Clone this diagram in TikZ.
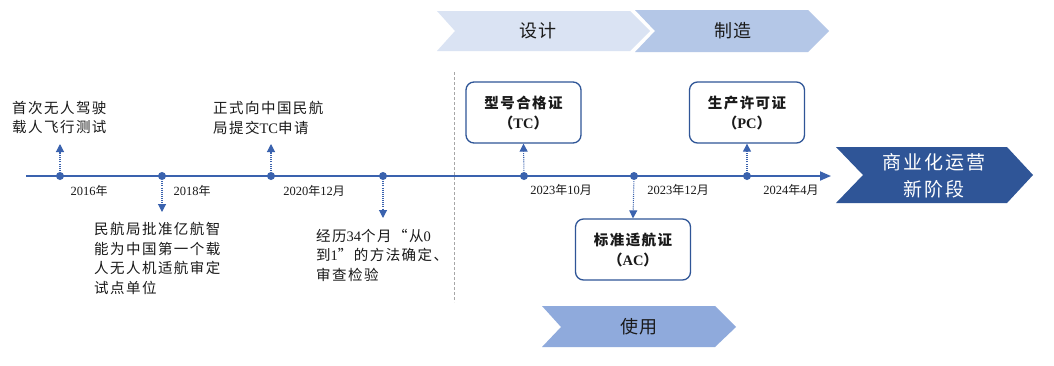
\documentclass[tikz,border=0pt]{standalone}
\usepackage{fontspec}
\setmainfont{Liberation Serif}
\newfontfamily\cjk[LetterSpace=10]{Noto Sans CJK SC}
\usetikzlibrary{arrows.meta}
\definecolor{dblue}{HTML}{2F5597}
\definecolor{lineblue}{HTML}{3A62AE}
\definecolor{fillA}{HTML}{DAE3F3}
\definecolor{fillB}{HTML}{B4C7E7}
\definecolor{fillC}{HTML}{8FAADC}
\definecolor{txt}{HTML}{1A1A1A}
\begin{document}
\begin{tikzpicture}[x=1pt,y=-1pt,
  evdot/.style={circle, fill=lineblue, inner sep=0pt, minimum size=8pt},
  evarrow/.style={draw=lineblue, line width=1.1pt, dash pattern=on 1pt off 1.1pt, -{Triangle[length=8pt,width=8pt]}, shorten <=1pt},
  evtext/.style={anchor=north west, inner sep=0pt, align=left, text=txt, font=\fontsize{14.5}{19.5}\selectfont\cjk},
  datetext/.style={anchor=center, inner sep=0pt, text=txt, font=\fontsize{12.5}{14}\selectfont},
  certbox/.style={draw=dblue, line width=1.3pt, rounded corners=8pt, fill=white, minimum width=115pt, minimum height=61pt, align=center, inner sep=0pt, text=txt, font=\fontsize{14.5}{20}\selectfont\bfseries},
  chevtext/.style={inner sep=0pt, text=txt, font=\fontsize{18}{20}\selectfont\cjk}
]
\useasboundingbox (0,0) rectangle (1054,365);
\fill[white] (0,0) rectangle (1054,365);

% phase chevrons
\fill[fillA] (437,11) -- (630,11) -- (650,31) -- (630,51) -- (437,51) -- (455,31) -- cycle;
\fill[fillB] (635,10) -- (808,10) -- (829,31) -- (808,52) -- (635,52) -- (655,31) -- cycle;
\fill[fillC] (542,306) -- (715,306) -- (736,327) -- (715,347) -- (542,347) -- (561,327) -- cycle;
\fill[dblue] (836,147) -- (1007,147) -- (1033,175) -- (1007,203) -- (836,203) -- (863,175) -- cycle;
\node[chevtext] (sheji) at (538,31) {设计};
\node[chevtext] (zhizao) at (733,31) {制造};
\node[chevtext] (shiyong) at (639,327) {使用};
\node[inner sep=0pt, text=white, align=center, font=\fontsize{19}{27}\selectfont\cjk] (shangye) at (934,176) {商业化运营\\新阶段};

% separator
\draw[gray!70, line width=0.8pt, dash pattern=on 3pt off 2pt] (454,72) -- (454,302);

% timeline
\coordinate (tstart) at (26,176);
\coordinate (tend) at (831,176);
\draw[lineblue, line width=1.8pt, -{Triangle[length=11pt,width=9pt]}] (tstart) -- (tend);

\node[evdot] (d1) at (60,176) {};
\node[evdot] (d2) at (162,176) {};
\node[evdot] (d3) at (271,176) {};
\node[evdot] (d4) at (383,176) {};
\node[evdot] (d5) at (524,176) {};
\node[evdot] (d6) at (634,176) {};
\node[evdot] (d7) at (747,176) {};

% dates
\node[datetext] (y1) at (89,191) {2016{\cjk\fontsize{12}{14}\selectfont 年}};
\node[datetext] (y2) at (192,191) {2018{\cjk\fontsize{12}{14}\selectfont 年}};
\node[datetext] (y3) at (314,191) {2020{\cjk\fontsize{12}{14}\selectfont 年}12{\cjk\fontsize{12}{14}\selectfont 月}};
\node[datetext] (y5) at (561,190) {2023{\cjk\fontsize{12}{14}\selectfont 年}10{\cjk\fontsize{12}{14}\selectfont 月}};
\node[datetext] (y6) at (678,190) {2023{\cjk\fontsize{12}{14}\selectfont 年}12{\cjk\fontsize{12}{14}\selectfont 月}};
\node[datetext] (y7) at (791,190) {2024{\cjk\fontsize{12}{14}\selectfont 年}4{\cjk\fontsize{12}{14}\selectfont 月}};

% event texts
\node[evtext] (e1) at (12,101) {首次无人驾驶\\载人飞行测试};
\node[evtext] (e2) at (94,222) {民航局批准亿航智\\能为中国第一个载\\人无人机适航审定\\试点单位};
\node[evtext] (e3) at (213,101) {正式向中国民航\\局提交{\rmfamily TC}申请};
\node[evtext] (e4) at (316,229) {经历{\rmfamily 34}个月“从{\rmfamily 0}\\到{\rmfamily 1}”的方法确定、\\审查检验};

% certificate boxes
\node[certbox] (tc) at (523.5,112.5) {{\cjk 型号合格证}\\{\cjk （}TC{\cjk ）}};
\node[certbox] (pc) at (747,112.5) {{\cjk 生产许可证}\\{\cjk （}PC{\cjk ）}};
\node[certbox] (ac) at (633,249.5) {{\cjk 标准适航证}\\{\cjk （}AC{\cjk ）}};

% arrows
\coordinate (a1) at (60,144);
\coordinate (a2) at (162,212);
\coordinate (a3) at (271,144);
\coordinate (a4) at (383,218);
\draw[evarrow] (d1) -- (a1);
\draw[evarrow] (d2) -- (a2);
\draw[evarrow] (d3) -- (a3);
\draw[evarrow] (d4) -- (a4);
\draw[evarrow] (d5) -- (tc.south);
\draw[evarrow] (d6) -- (ac.north);
\draw[evarrow] (d7) -- (pc.south);
\end{tikzpicture}
\end{document}
